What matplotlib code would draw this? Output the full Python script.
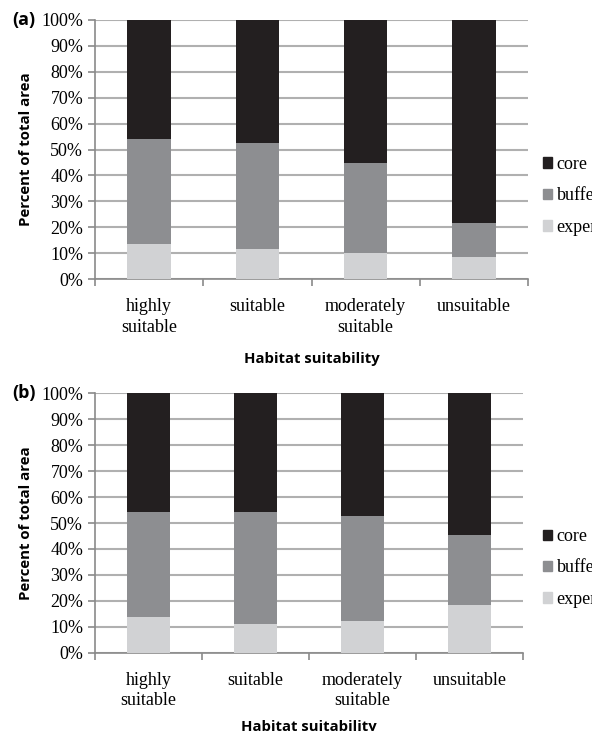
import numpy as np
import matplotlib
matplotlib.use('Agg')
import matplotlib.pyplot as plt
from matplotlib.patches import Patch

# categories and series (percent of total area)
cats = ['highly\nsuitable', 'suitable', 'moderately\nsuitable', 'unsuitable']
yticks = [0, 10, 20, 30, 40, 50, 60, 70, 80, 90, 100]
ytick_labels = [f'{v}%' for v in yticks]

expert_a = [13.5, 11.7, 9.9, 8.4]
buffer_a = [40.7, 40.7, 34.9, 13.3]
core_a = [45.8, 47.6, 55.2, 78.3]

# panel (b)
expert_b = [13.9, 11.0, 12.3, 18.5]
buffer_b = [40.3, 43.1, 40.3, 26.8]
core_b = [45.8, 45.9, 47.4, 54.7]

c_core = '#231f20'
c_buffer = '#8d8e91'
c_expert = '#d1d2d4'
c_grid = '#b0b0b0'
c_axis = '#8a8a8a'

serif = 'Liberation Serif'
sans = 'Open Sans'

fig = plt.figure(figsize=(5.92, 7.31), dpi=100)
ax_a = fig.add_axes([95/592, 1-279/731, 433/592, 259/731])
ax_b = fig.add_axes([95/592, 1-652.7/731, 428/592, 259.4/731])


def panel(ax, expert, buffer, core, tag, leg_y, wpx, xlpad):
    x = np.arange(len(cats))
    ax.bar(x, expert, width=0.4, color=c_expert, zorder=3)
    ax.bar(x, buffer, width=0.4, bottom=expert, color=c_buffer, zorder=3)
    ax.bar(x, core, width=0.4, bottom=np.array(expert) + np.array(buffer),
           color=c_core, zorder=3)
    ax.set_xlim(-0.5, len(cats) - 0.5)
    ax.set_ylim(0, 100)
    ax.set_yticks(yticks)
    ax.set_yticklabels(ytick_labels, fontfamily=serif, fontsize=13)
    ax.yaxis.grid(True, color=c_grid, linewidth=1.5, zorder=0)
    ax.set_axisbelow(True)
    for s in ['top', 'right']:
        ax.spines[s].set_visible(False)
    for s in ['left', 'bottom']:
        ax.spines[s].set_color(c_axis)
        ax.spines[s].set_linewidth(1.2)
    ax.tick_params(axis='y', length=5, width=1.2, color=c_axis, pad=3.5)
    # category labels between boundary ticks
    ax.set_xticks(np.arange(-0.5, len(cats)), minor=False)
    ax.set_xticklabels([])
    ax.tick_params(axis='x', length=5, width=1.2, color=c_axis)
    ax.set_xticks(x, minor=True)
    ax.set_xticklabels(cats, minor=True, fontfamily=serif, fontsize=13,
                       linespacing=1.25, va='top')
    ax.tick_params(axis='x', which='minor', length=0, pad=14)
    ax.set_xlabel('Habitat suitability', fontfamily=sans, fontweight='bold',
                  fontsize=10.7, labelpad=xlpad)
    ax.set_ylabel('Percent of total area', fontfamily=sans, fontweight='bold',
                  fontsize=10.8)
    ax.yaxis.set_label_coords((33 - 95) / wpx, 0.5)
    ax.text((12 - 95) / wpx, 1.0, tag, transform=ax.transAxes, fontfamily=sans,
            fontweight='bold', fontsize=13, ha='left', va='center')
    handles = [Patch(color=c_core, label='core'),
               Patch(color=c_buffer, label='buffer'),
               Patch(color=c_expert, label='experimental')]
    ax.legend(handles=handles, loc='center left', bbox_to_anchor=(448/wpx, leg_y),
              frameon=False, prop={'family': serif, 'size': 13},
              handlelength=0.5, handleheight=0.5, handletextpad=0.25,
              labelspacing=0.8, borderpad=0, borderaxespad=0)


panel(ax_a, expert_a, buffer_a, core_a, '(a)', (279-196)/259, 433, 12)
panel(ax_b, expert_b, buffer_b, core_b, '(b)', (652.7-568)/259.4, 428, 7.5)

fig.savefig('out.png', dpi=100)
